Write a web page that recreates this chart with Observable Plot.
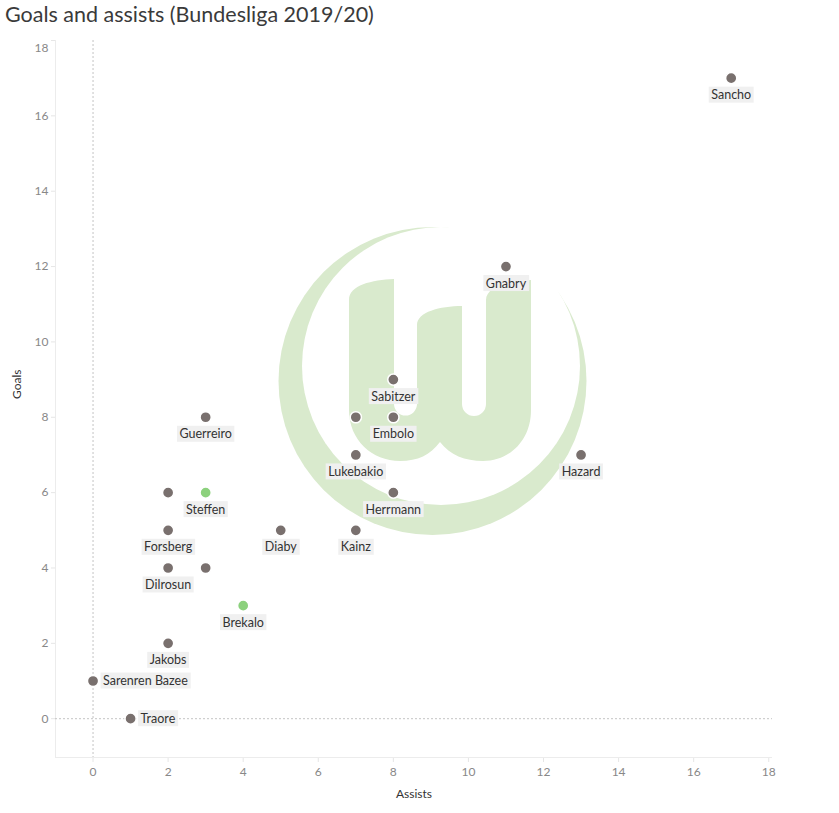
<!DOCTYPE html>
<html>
<head>
<meta charset="utf-8">
<script src="https://cdn.jsdelivr.net/npm/d3@7"></script>
<script src="https://cdn.jsdelivr.net/npm/@observablehq/plot@0.6"></script>
<style>
  body { margin: 0; background: white; }
  #wrap { position: relative; width: 839px; height: 813px; font-family: Lato, "Noto Sans", sans-serif; }
  #title { position: absolute; left: 5px; top: 1px; font-size: 21.5px; color: #3a3a3a; white-space: nowrap; }
  #logo { position: absolute; left: 0; top: 0; }
  #chart { position: absolute; left: 0; top: 32px; }
</style>
</head>
<body>
<div id="wrap">
  <svg id="logo" width="839" height="813" viewBox="0 0 839 813">
    <g fill="#d9eacd">
      <circle cx="432.5" cy="381" r="154"></circle>
      <circle cx="441" cy="366" r="139" fill="white"></circle>
      <path d="M 349 300 C 349 285, 372 280, 394 279 L 394 404 A 11.5 11.5 0 0 0 417 404 L 417 325 C 417 312, 440 306, 462 306 L 462 404 A 12 12 0 0 0 486 404 L 486 300 C 486 287, 508 281, 531 280 L 531 410 C 531 440, 510 461, 483 461 C 465 461, 450 455, 440 442 C 430 455, 418 461, 400 461 C 372 461, 349 440, 349 410 Z"></path>
    </g>
  </svg>
  <div id="title">Goals and assists (Bundesliga 2019/20)</div>
  <div id="chart"></div>
</div>
<script>
// ---- data ----
const players   = ["Sancho","Gnabry","Sabitzer","Embolo","","Lukebakio","Hazard","Herrmann","Guerreiro","Steffen","","Forsberg","Diaby","Kainz","Dilrosun","","Brekalo","Jakobs","Sarenren Bazee","Traore"];
const assists   = [17, 11, 8, 8, 7, 7, 13, 8, 3, 3, 2, 2, 5, 7, 2, 3, 4, 2, 0, 1];
const goals     = [17, 12, 9, 8, 8, 7, 7, 6, 8, 6, 6, 5, 5, 5, 4, 4, 3, 2, 1, 0];
const labelSide = ["below","below","below","below","none","below","below","below","below","below","none","below","below","below","below","none","below","below","right","right"];
const wolfsburg = ["Steffen","Brekalo"];
const xTicks = [0, 2, 4, 6, 8, 10, 12, 14, 16, 18];
const yTicks = [0, 2, 4, 6, 8, 10, 12, 14, 16, 18];

const data = players.map((p, i) => ({player: p, assists: assists[i], goals: goals[i], side: labelSide[i], wob: wolfsburg.includes(p)}));

const chart = Plot.plot({
  width: 839,
  height: 781,
  marginLeft: 55,
  marginRight: 67,
  marginTop: 8,
  marginBottom: 56,
  style: {background: "transparent", fontFamily: "Lato, 'Noto Sans', sans-serif", fontSize: "12px", color: "#8a8a8a", overflow: "visible"},
  x: {domain: [-1, 18.1], ticks: xTicks, tickSize: 5, tickPadding: 5, label: null},
  y: {domain: [-1.03, 18], ticks: yTicks, tickSize: 4, tickPadding: 3, label: null},
  marks: [
    Plot.ruleX([-1], {stroke: "#ececec"}),
    Plot.ruleY([-1.03], {stroke: "#ececec"}),
    Plot.ruleX([0], {stroke: "#c4c4c4", strokeDasharray: "2,2"}),
    Plot.ruleY([0], {stroke: "#c4c4c4", strokeDasharray: "2,2"}),
    Plot.dot(data.filter(d => !d.wob), {x: "assists", y: "goals", r: 5.6, fill: "#79706e", stroke: "white", strokeWidth: 1.5}),
    Plot.dot(data.filter(d => d.wob), {x: "assists", y: "goals", r: 5.6, fill: "#8cd17d", stroke: "white", strokeWidth: 1.5}),
    Plot.text(data.filter(d => d.side === "below"), {x: "assists", y: "goals", text: "player", dy: 17, fill: "#333", fontSize: 12.5}),
    Plot.text(data.filter(d => d.side === "right"), {x: "assists", y: "goals", text: "player", dx: 10, textAnchor: "start", fill: "#333", fontSize: 12.5}),
    Plot.text(["Assists"], {frameAnchor: "bottom", dy: 40, fill: "#333", fontSize: 12}),
    Plot.text(["Goals"], {frameAnchor: "left", dx: -38, rotate: -90, fill: "#333", fontSize: 12})
  ]
});

document.getElementById("chart").appendChild(chart);

// style axis ticks
chart.querySelectorAll('g[aria-label*="axis"]').forEach(g => {
  g.querySelectorAll("line, path").forEach(e => e.setAttribute("stroke", "#e6e6e6"));
  g.querySelectorAll("text").forEach(t => t.setAttribute("fill", "#888"));
});
// nudge top y tick label inside the frame, as in the original
chart.querySelectorAll('g[aria-label*="y-axis"] text').forEach(t => {
  if (t.textContent.trim() === "18") {
    const tr = t.getAttribute("transform") || "";
    t.setAttribute("transform", tr + " translate(0,8)");
  }
});

// label backgrounds
const names = new Set(players.filter(p => p));
chart.querySelectorAll("text").forEach(t => {
  if (!names.has(t.textContent.trim())) return;
  const bb = t.getBBox();
  const r = document.createElementNS("http://www.w3.org/2000/svg", "rect");
  r.setAttribute("x", bb.x - 2.5);
  r.setAttribute("y", bb.y - 0.5);
  r.setAttribute("width", bb.width + 5);
  r.setAttribute("height", bb.height + 1);
  r.setAttribute("fill", "#f0f0f0");
  const tr = t.getAttribute("transform");
  if (tr) r.setAttribute("transform", tr);
  t.parentNode.insertBefore(r, t);
});
</script>
</body>
</html>
